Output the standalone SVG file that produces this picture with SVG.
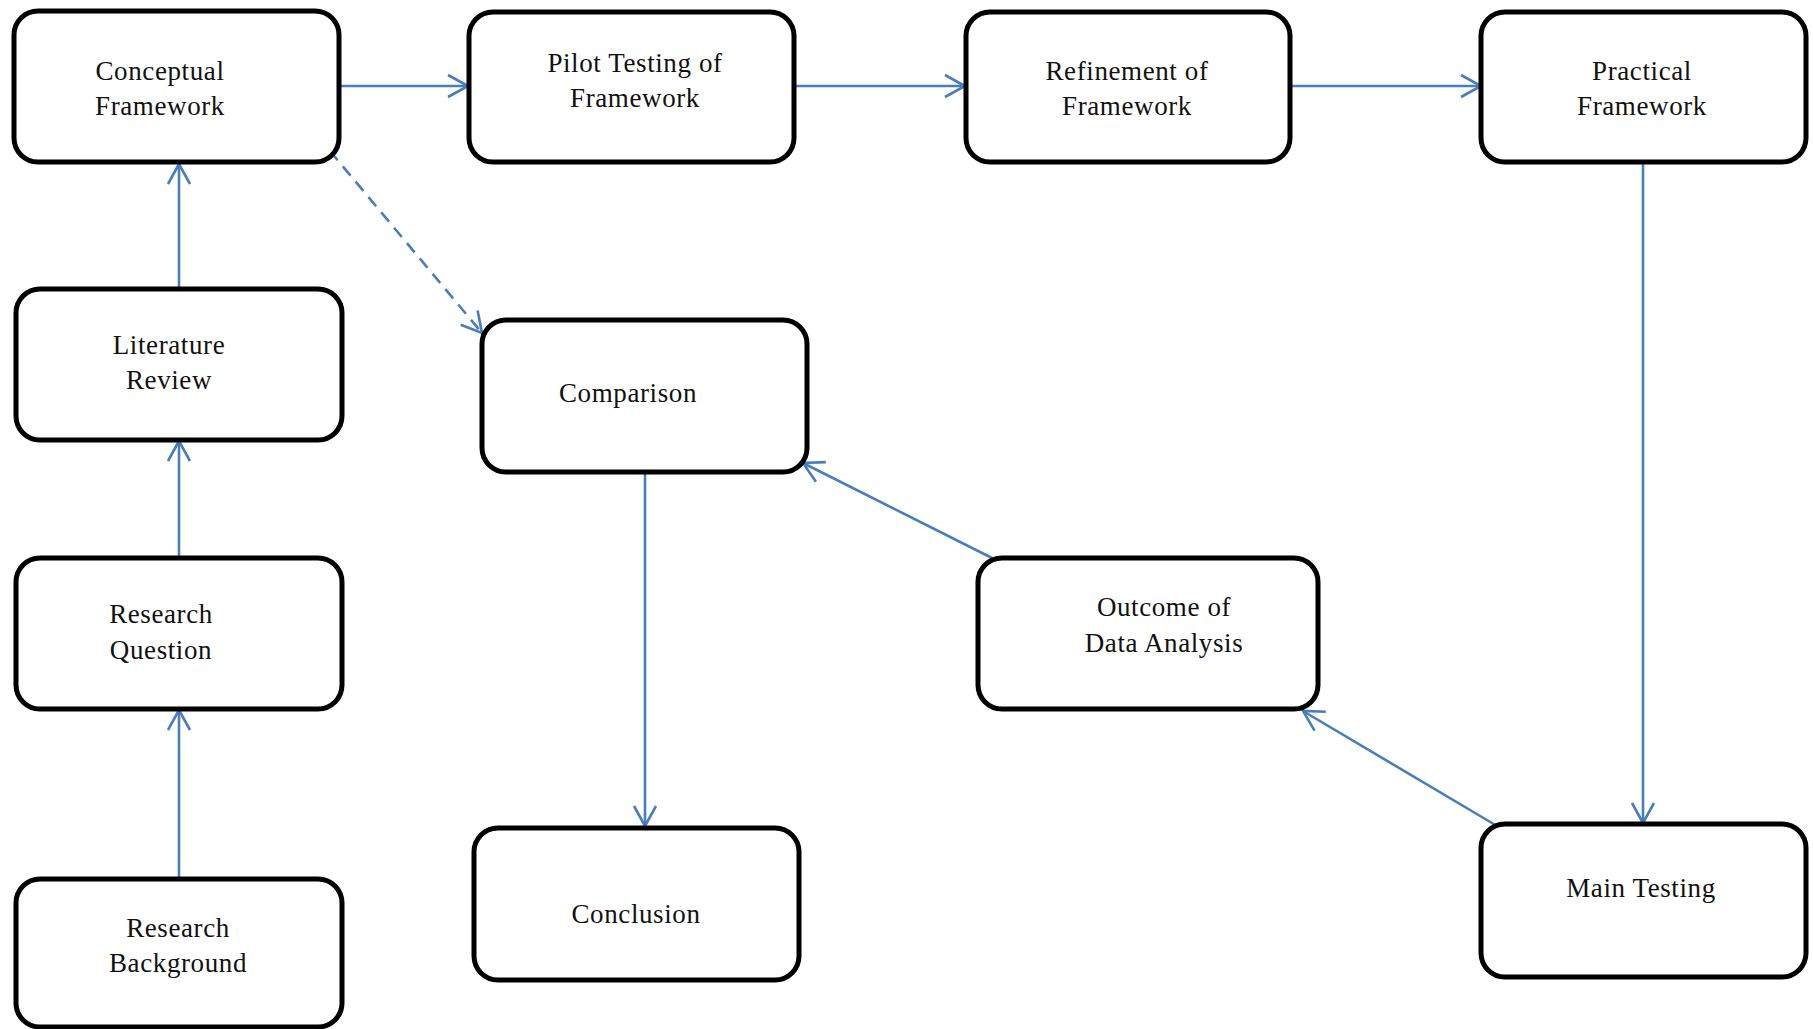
<svg xmlns="http://www.w3.org/2000/svg" width="1813" height="1029" viewBox="0 0 1813 1029">
<style>
.box{fill:#fff;stroke:#000;stroke-width:5}
.lbl{font-family:"Liberation Serif","Times New Roman",serif;font-size:27px;fill:#111;text-anchor:middle;letter-spacing:0.6px}
.c{fill:none;stroke:#4a7ebb;stroke-width:2.6}
.d{stroke-dasharray:12,8}
</style>
<defs>
<marker id="ah" markerUnits="userSpaceOnUse" markerWidth="26" markerHeight="26" viewBox="0 0 26 26" refX="22" refY="13" orient="auto">
<path d="M2,2 L22,13 L2,24" fill="none" stroke="#4a7ebb" stroke-width="2.6"/>
</marker>
</defs>
<g id="connectors">
<line class="c" x1="340" y1="86" x2="468" y2="86" marker-end="url(#ah)"/>
<line class="c" x1="794" y1="86" x2="965" y2="86" marker-end="url(#ah)"/>
<line class="c" x1="1290" y1="86" x2="1481" y2="86" marker-end="url(#ah)"/>
<line class="c" x1="179" y1="289" x2="179" y2="164" marker-end="url(#ah)"/>
<line class="c" x1="179" y1="558" x2="179" y2="441" marker-end="url(#ah)"/>
<line class="c" x1="179" y1="879" x2="179" y2="710" marker-end="url(#ah)"/>
<line class="c d" x1="330" y1="151" x2="482" y2="333" marker-end="url(#ah)"/>
<line class="c" x1="645" y1="473" x2="645" y2="826" marker-end="url(#ah)"/>
<line class="c" x1="1643" y1="163" x2="1643" y2="823" marker-end="url(#ah)"/>
<line class="c" x1="1497" y1="826" x2="1303" y2="711" marker-end="url(#ah)"/>
<line class="c" x1="992" y1="558" x2="803" y2="463" marker-end="url(#ah)"/>
</g>
<g id="conceptual">
<rect class="box" x="14" y="11" width="325" height="151" rx="24"/>
<text class="lbl" x="160" y="80">Conceptual</text>
<text class="lbl" x="160" y="115">Framework</text>
</g>
<g id="pilot">
<rect class="box" x="469" y="12" width="325" height="150" rx="24"/>
<text class="lbl" x="635" y="72">Pilot Testing of</text>
<text class="lbl" x="635" y="107">Framework</text>
</g>
<g id="refinement">
<rect class="box" x="966" y="12" width="324" height="150" rx="24"/>
<text class="lbl" x="1127" y="80">Refinement of</text>
<text class="lbl" x="1127" y="115">Framework</text>
</g>
<g id="practical">
<rect class="box" x="1481" y="12" width="325" height="150" rx="24"/>
<text class="lbl" x="1642" y="80">Practical</text>
<text class="lbl" x="1642" y="115">Framework</text>
</g>
<g id="literature">
<rect class="box" x="16" y="289" width="326" height="151" rx="24"/>
<text class="lbl" x="169" y="354">Literature</text>
<text class="lbl" x="169" y="389">Review</text>
</g>
<g id="question">
<rect class="box" x="16" y="558" width="326" height="151" rx="24"/>
<text class="lbl" x="161" y="623">Research</text>
<text class="lbl" x="161" y="659">Question</text>
</g>
<g id="background">
<rect class="box" x="16" y="879" width="326" height="148" rx="24"/>
<text class="lbl" x="178" y="937">Research</text>
<text class="lbl" x="178" y="972">Background</text>
</g>
<g id="comparison">
<rect class="box" x="482" y="320" width="325" height="152" rx="24"/>
<text class="lbl" x="628" y="402">Comparison</text>
</g>
<g id="conclusion">
<rect class="box" x="474" y="828" width="325" height="152" rx="24"/>
<text class="lbl" x="636" y="923">Conclusion</text>
</g>
<g id="outcome">
<rect class="box" x="978" y="558" width="340" height="151" rx="24"/>
<text class="lbl" x="1164" y="616">Outcome of</text>
<text class="lbl" x="1164" y="652">Data Analysis</text>
</g>
<g id="main">
<rect class="box" x="1481" y="824" width="325" height="153" rx="24"/>
<text class="lbl" x="1641" y="897">Main Testing</text>
</g>
</svg>
